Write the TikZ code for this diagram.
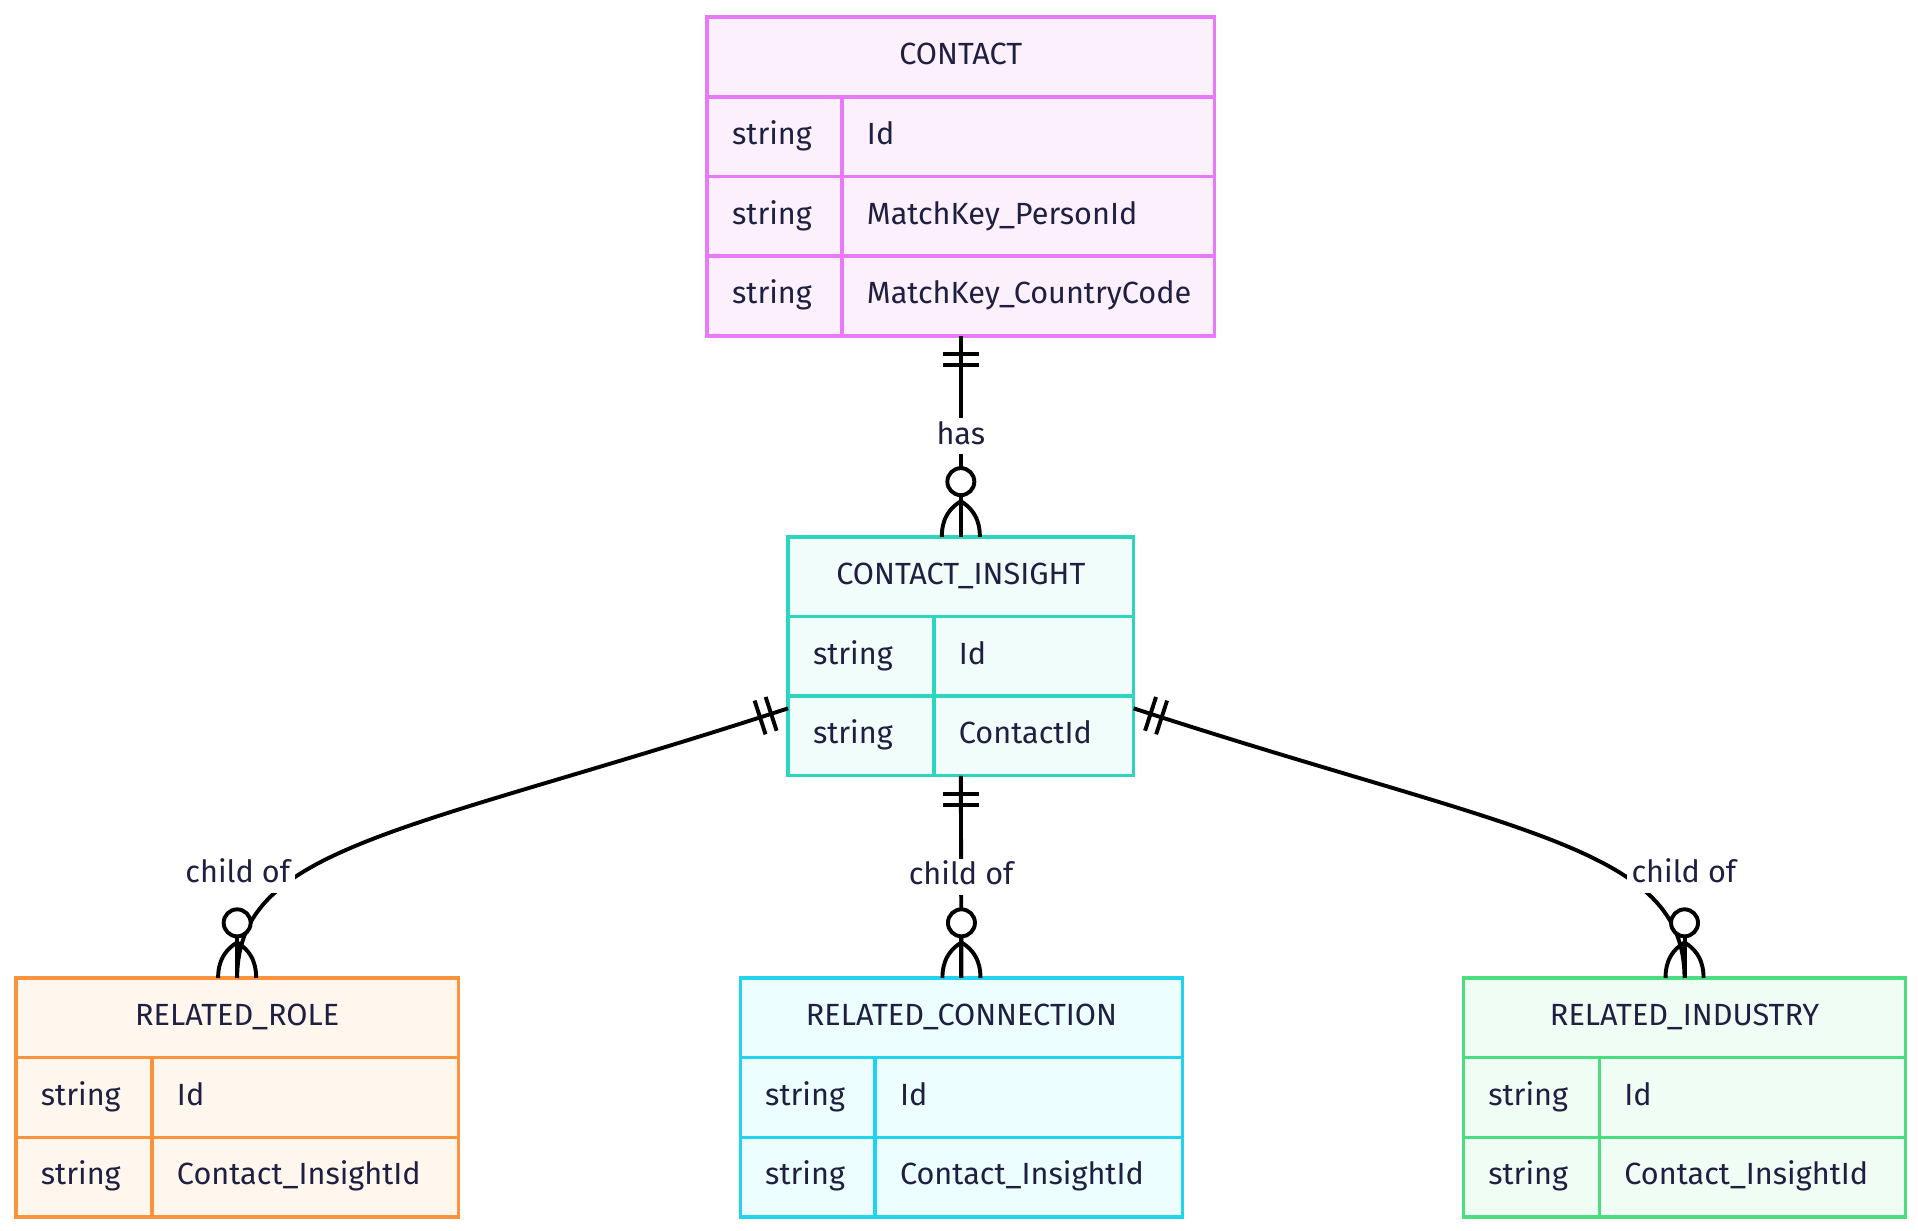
\documentclass[tikz,border=0pt]{standalone}
\usepackage{fontspec}
\setmainfont{Fira Sans}
\usepackage{xcolor}
\usetikzlibrary{positioning,backgrounds,calc}

\definecolor{ink}{HTML}{1F2041}
\definecolor{cPink}{HTML}{E879F9}\definecolor{fPink}{HTML}{FDF0FD}
\definecolor{cTeal}{HTML}{2DD4BF}\definecolor{fTeal}{HTML}{F0FDFA}
\definecolor{cOrange}{HTML}{FB923C}\definecolor{fOrange}{HTML}{FFF7ED}
\definecolor{cCyan}{HTML}{22D3EE}\definecolor{fCyan}{HTML}{ECFEFF}
\definecolor{cGreen}{HTML}{4ADE80}\definecolor{fGreen}{HTML}{F0FDF4}
\definecolor{shade}{HTML}{E8E8E8}

\tikzset{
    ebox/.style 2 args={draw=#1, fill=#2, line width=1.4pt, inner sep=0pt, outer sep=0pt, minimum height=32.5pt},
    etext/.style={text=ink, font=\fontsize{12.5}{14}\selectfont, inner sep=0pt, text height=1.6ex, text depth=0.4ex},
    erline/.style={line width=1.6pt, black},
    rel/.style={etext, fill=white, inner sep=2pt},
    one/.pic={\draw[erline] (14.5,-14.5) -- (14.5,14.5) (24,-14.5) -- (24,14.5);},
    zmany/.pic={
        \draw[erline] (0,0) -- (34,0);
        \draw[erline] (29,0) .. controls (20,15) and (6,15.5) .. (0,15.5);
        \draw[erline] (29,0) .. controls (20,-15) and (6,-15.5) .. (0,-15.5);
        \draw[erline, fill=white] (45,0) circle[radius=11];}
}

% #1 name, #2 border, #3 fill, #4 left, #5 top, #6 right, #7 divider, #8 title, #9 fields
\newcommand{\entity}[9]{%
  \node[ebox={#2}{#3}, etext, minimum width={(#6-#4)*0.5pt}, minimum height=32.5pt, anchor=north west] (#1) at (#4,#5) {#8};
  \begin{scope}[on background layer]
    \fill[shade] ([shift={(6,6)}]#1.north west) rectangle ([shift={(6,6)}]#1.south east);
  \end{scope}
  \foreach \f [count=\i] in {#9} {
    \node[ebox={#2}{#3}, minimum width={(#7-#4)*0.5pt}, anchor=north west] (#1-t\i) at (#4,{#5+65*\i}) {};
    \node[ebox={#2}{#3}, minimum width={(#6-#7)*0.5pt}, anchor=north west] (#1-n\i) at (#7,{#5+65*\i}) {};
    \node[etext, anchor=west] at ([xshift=10pt]#1-t\i.west) {string};
    \node[etext, anchor=west] at ([xshift=10pt]#1-n\i.west) {\f};
    \begin{scope}[on background layer]
      \fill[shade] ([shift={(6,6)}]#1-t\i.north west) rectangle ([shift={(6,6)}]#1-n\i.south east);
    \end{scope}
  }%
}

\begin{document}
\begin{tikzpicture}[x=0.5pt, y=-0.5pt]
\useasboundingbox[fill=white] (0,0) rectangle (1565,1004);

% Entities
\entity{contact}{cPink}{fPink}{577}{14}{991}{687}{CONTACT}{Id,MatchKey\_PersonId,MatchKey\_CountryCode}
\entity{ins}{cTeal}{fTeal}{643}{438}{925}{762}{CONTACT\_INSIGHT}{Id,ContactId}
\entity{role}{cOrange}{fOrange}{13}{798}{374}{124}{RELATED\_ROLE}{Id,Contact\_InsightId}
\entity{conn}{cCyan}{fCyan}{604}{798}{965}{714}{RELATED\_CONNECTION}{Id,Contact\_InsightId}
\entity{ind}{cGreen}{fGreen}{1194}{798}{1555}{1305}{RELATED\_INDUSTRY}{Id,Contact\_InsightId}

% Connection points
\coordinate (insL) at ([yshift=-5pt]ins-t2.north west);
\coordinate (insR) at ([yshift=-5pt]ins-n2.north east);

% Relationships
\draw[erline] (contact-t3.south -| contact.north) -- (ins.north)
    node[rel, pos=0.5] {has};
\draw[erline] (ins-t2.south -| ins.north) -- (conn.north)
    node[rel, pos=0.5] {child of};
\draw[erline] (insL) .. controls (330,680) and (194,690) .. (role.north);
\draw[erline] (insR) .. controls (1238,680) and (1374,690) .. (ind.north);
\node[rel] (lblL) at (194,714) {child of};
\node[rel] (lblR) at (1374,714) {child of};

% Cardinality marks
\pic[rotate=-90] at (contact-t3.south -| contact.north) {one};
\pic[rotate=90] at (ins.north) {zmany};
\pic[rotate=-90] at (ins-t2.south -| ins.north) {one};
\pic[rotate=90] at (conn.north) {zmany};
\pic[rotate=198] at (insL) {one};
\pic[rotate=-18] at (insR) {one};
\pic[rotate=90] at (role.north) {zmany};
\pic[rotate=90] at (ind.north) {zmany};

\end{tikzpicture}
\end{document}
